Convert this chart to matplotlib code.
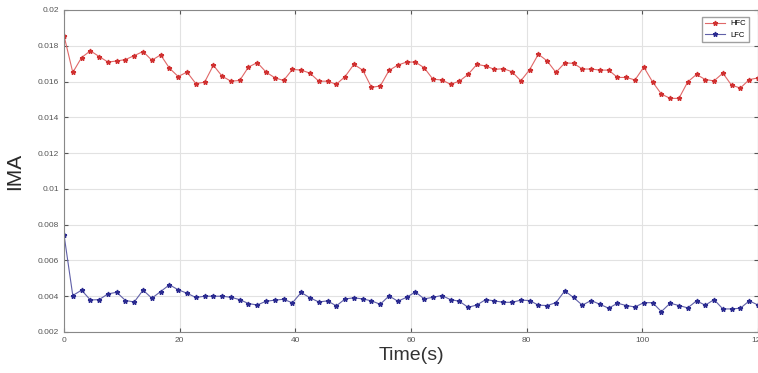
import numpy as np
import matplotlib
matplotlib.use("Agg")
from matplotlib import pyplot as plt

plt.rcParams["font.family"] = ["Liberation Sans", "DejaVu Sans"]

time_s = np.linspace(0, 120, 80)

hfc = [
    0.01857, 0.01651, 0.01734, 0.01772, 0.01740, 0.01709, 0.01715, 0.01723,
    0.01745, 0.01768, 0.01719, 0.01749, 0.01675, 0.01628, 0.01653, 0.01589,
    0.01596, 0.01691, 0.01630, 0.01602, 0.01606, 0.01681, 0.01706, 0.01653,
    0.01621, 0.01606, 0.01668, 0.01664, 0.01647, 0.01602, 0.01602, 0.01585,
    0.01628, 0.01696, 0.01664, 0.01568, 0.01575, 0.01662, 0.01692, 0.01709,
    0.01709, 0.01677, 0.01613, 0.01609, 0.01585, 0.01602, 0.01640, 0.01696,
    0.01687, 0.01668, 0.01672, 0.01655, 0.01604, 0.01666, 0.01753, 0.01715,
    0.01651, 0.01704, 0.01702, 0.01670, 0.01670, 0.01664, 0.01664, 0.01623,
    0.01623, 0.01609, 0.01681, 0.01598, 0.01530, 0.01506, 0.01506, 0.01598,
    0.01640, 0.01611, 0.01604, 0.01647, 0.01579, 0.01564, 0.01611, 0.01620,
]

lfc = [
    0.00744, 0.00404, 0.00434, 0.00379, 0.00381, 0.00413, 0.00422, 0.00376,
    0.00368, 0.00434, 0.00389, 0.00426, 0.00464, 0.00436, 0.00417, 0.00393,
    0.00400, 0.00400, 0.00400, 0.00394, 0.00381, 0.00359, 0.00351, 0.00372,
    0.00378, 0.00383, 0.00363, 0.00421, 0.00391, 0.00368, 0.00374, 0.00346,
    0.00385, 0.00391, 0.00385, 0.00374, 0.00355, 0.00402, 0.00372, 0.00394,
    0.00424, 0.00385, 0.00394, 0.00404, 0.00381, 0.00372, 0.00338, 0.00351,
    0.00381, 0.00374, 0.00366, 0.00366, 0.00378, 0.00376, 0.00350, 0.00348,
    0.00364, 0.00430, 0.00393, 0.00350, 0.00376, 0.00355, 0.00333, 0.00361,
    0.00348, 0.00340, 0.00364, 0.00364, 0.00314, 0.00361, 0.00348, 0.00335,
    0.00374, 0.00350, 0.00381, 0.00329, 0.00329, 0.00333, 0.00374, 0.00351,
]

fig = plt.figure(figsize=(7.58, 3.73), dpi=100)
ax = fig.add_axes([64 / 758, 1 - 332 / 373, 694 / 758, 322 / 373])

ax.plot(time_s, hfc, color="#e06868", linewidth=0.8, marker="*",
        markersize=3.5, markerfacecolor="#d03030", markeredgecolor="#d03030",
        label="HFC")
ax.plot(time_s, lfc, color="#6060a8", linewidth=0.8, marker="*",
        markersize=3.5, markerfacecolor="#2a2a90", markeredgecolor="#2a2a90",
        label="LFC")

ax.set_xlim(0, 120)
ax.set_ylim(0.002, 0.02)
ax.set_xticks(np.arange(0, 121, 20))
ax.set_yticks(np.arange(0.002, 0.0201, 0.002))
ax.set_yticklabels(["0.002", "0.004", "0.006", "0.008", "0.01", "0.012",
                    "0.014", "0.016", "0.018", "0.02"])
ax.tick_params(direction="in", labelsize=6, colors="#555555", length=3,
               top=True, right=True)
ax.grid(True, color="#e2e2e2", linewidth=0.8)
for s in ax.spines.values():
    s.set_color("#888888")
    s.set_linewidth(0.8)

ax.set_xlabel("Time(s)", fontsize=14, color="#333333", labelpad=2)
ax.set_ylabel("IMA", fontsize=15, color="#2a2a2a", labelpad=10)

ax.legend(loc="upper right", fontsize=5.5, frameon=True, fancybox=False,
          edgecolor="#888888", handlelength=2.5, borderpad=0.4,
          bbox_to_anchor=(0.993, 0.99))

fig.savefig("out.png", dpi=100)
